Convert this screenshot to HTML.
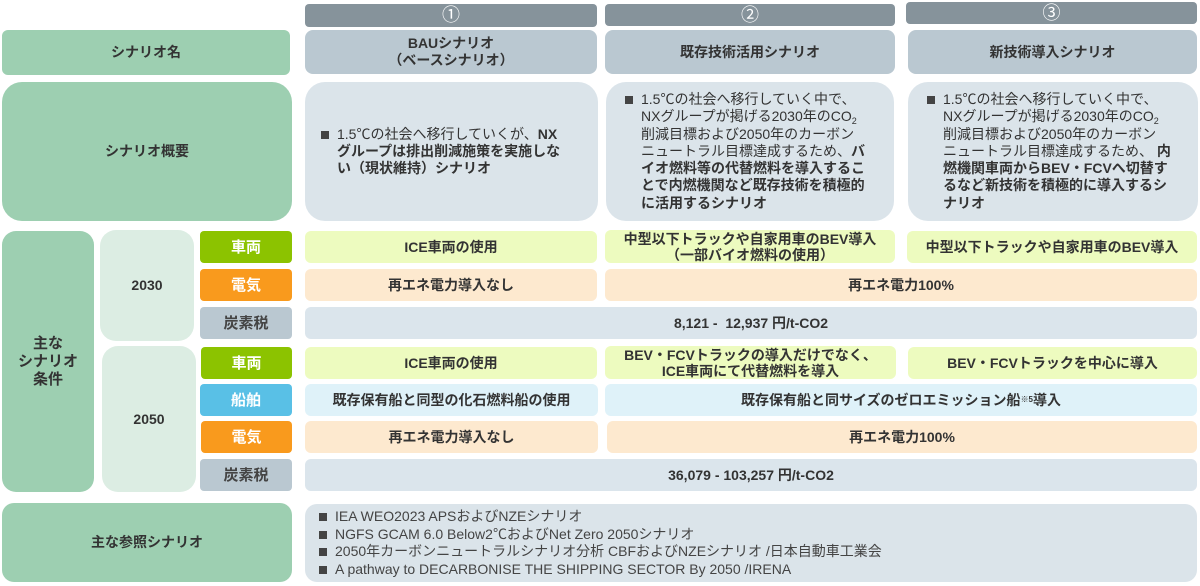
<!DOCTYPE html>
<html><head><meta charset="utf-8"><style>
body{margin:0;width:1200px;height:586px;background:#fff;position:relative;overflow:hidden;font-family:"Liberation Sans","Noto Sans CJK JP",sans-serif;color:#333;}
.b{position:absolute;display:flex;align-items:center;justify-content:center;text-align:center;font-weight:bold;font-size:14px;line-height:17px;box-sizing:border-box;}
.g{background:#9dcfb1;}
.lg{background:#dcede3;border-radius:16px;}
.hd{background:#86939b;color:#fff;border-radius:4px;font-weight:normal;font-size:18px;}
.nm{background:#bac8d1;border-radius:8px;}
.sm{background:#dbe4ea;border-radius:20px;justify-content:flex-start;text-align:left;font-weight:normal;font-size:14px;line-height:17.3px;white-space:nowrap;}
.sm ul{margin:0;padding:0;list-style:none;}
.sm li{padding-left:16px;position:relative;}
.sm li:before{content:"";position:absolute;left:0;top:5px;width:8px;height:8px;background:#444;}
.sm sub{font-size:9px;line-height:0;vertical-align:-3px;}
.ve{background:#edfbbf;border-radius:6px;}
.pw{background:#fde9cf;border-radius:6px;}
.cb{background:#dbe5ec;border-radius:6px;}
.sh{background:#dff2f9;border-radius:6px;}
.lv{background:#8cc300;color:#fff;border-radius:4px;font-size:15px;}
.lo{background:#f99a1d;color:#fff;border-radius:4px;font-size:15px;}
.lb{background:#59c0e6;color:#fff;border-radius:4px;font-size:15px;}
.lgr{background:#bac8d1;border-radius:4px;font-size:15px;color:#444;}
</style></head><body>
<div class="b hd" style="left:305px;top:4px;width:292px;height:23px;">①</div>
<div class="b hd" style="left:605px;top:4px;width:290px;height:22px;">②</div>
<div class="b hd" style="left:906px;top:2px;width:291px;height:22px;">③</div>

<div class="b g" style="left:2px;top:30px;width:288px;height:45px;border-radius:6px;">シナリオ名</div>
<div class="b nm" style="left:305px;top:30px;width:292px;height:44px;">BAUシナリオ<br>（ベースシナリオ）</div>
<div class="b nm" style="left:605px;top:30px;width:290px;height:44px;">既存技術活用シナリオ</div>
<div class="b nm" style="left:908px;top:30px;width:289px;height:44px;">新技術導入シナリオ</div>

<div class="b g" style="left:2px;top:82px;width:290px;height:139px;border-radius:20px;">シナリオ概要</div>
<div class="b sm" style="left:305px;top:82px;width:293px;height:139px;padding-left:16px;"><ul><li>1.5℃の社会へ移行していくが、<b>NX<br>グループは排出削減施策を実施しな<br>い（現状維持）シナリオ</b></li></ul></div>
<div class="b sm" style="left:606px;top:82px;width:288px;height:139px;padding-left:19px;"><ul><li>1.5℃の社会へ移行していく中で、<br>NXグループが掲げる2030年のCO<sub>2</sub><br>削減目標および2050年のカーボン<br>ニュートラル目標達成するため、<b>バ<br>イオ燃料等の代替燃料を導入するこ<br>とで内燃機関など既存技術を積極的<br>に活用するシナリオ</b></li></ul></div>
<div class="b sm" style="left:908px;top:82px;width:290px;height:139px;padding-left:19px;"><ul><li>1.5℃の社会へ移行していく中で、<br>NXグループが掲げる2030年のCO<sub>2</sub><br>削減目標および2050年のカーボン<br>ニュートラル目標達成するため、 <b>内<br>燃機関車両からBEV・FCVへ切替す<br>るなど新技術を積極的に導入するシ<br>ナリオ</b></li></ul></div>

<div class="b g" style="left:2px;top:231px;width:92px;height:261px;border-radius:14px;font-size:15px;line-height:18px;">主な<br>シナリオ<br>条件</div>
<div class="b lg" style="left:100px;top:230px;width:94px;height:111px;">2030</div>
<div class="b lg" style="left:102px;top:346px;width:94px;height:146px;">2050</div>

<div class="b lv" style="left:200px;top:231px;width:92px;height:32px;">車両</div>
<div class="b lo" style="left:200px;top:269px;width:92px;height:32px;">電気</div>
<div class="b lgr" style="left:200px;top:307px;width:92px;height:32px;">炭素税</div>
<div class="b lv" style="left:201px;top:347px;width:91px;height:32px;">車両</div>
<div class="b lb" style="left:200px;top:384px;width:92px;height:32px;">船舶</div>
<div class="b lo" style="left:201px;top:421px;width:91px;height:32px;">電気</div>
<div class="b lgr" style="left:200px;top:459px;width:92px;height:32px;">炭素税</div>

<div class="b ve" style="left:305px;top:231px;width:292px;height:32px;">ICE車両の使用</div>
<div class="b ve" style="left:605px;top:230px;width:290px;height:33px;line-height:16px;">中型以下トラックや自家用車のBEV導入<br>（一部バイオ燃料の使用）</div>
<div class="b ve" style="left:907px;top:231px;width:290px;height:32px;">中型以下トラックや自家用車のBEV導入</div>
<div class="b pw" style="left:305px;top:269px;width:292px;height:32px;">再エネ電力導入なし</div>
<div class="b pw" style="left:605px;top:269px;width:592px;height:32px;">再エネ電力100%</div>
<div class="b cb" style="left:305px;top:307px;width:892px;height:32px;">8,121 -&nbsp; 12,937 円/t-CO2</div>

<div class="b ve" style="left:305px;top:347px;width:292px;height:32px;">ICE車両の使用</div>
<div class="b ve" style="left:605px;top:346px;width:291px;height:33px;line-height:16px;">BEV・FCVトラックの導入だけでなく、<br>ICE車両にて代替燃料を導入</div>
<div class="b ve" style="left:908px;top:347px;width:289px;height:32px;">BEV・FCVトラックを中心に導入</div>
<div class="b sh" style="left:305px;top:384px;width:293px;height:32px;">既存保有船と同型の化石燃料船の使用</div>
<div class="b sh" style="left:605px;top:384px;width:592px;height:32px;">既存保有船と同サイズのゼロエミッション船<sup style="font-size:8px;line-height:0">※5</sup>導入</div>
<div class="b pw" style="left:305px;top:421px;width:293px;height:32px;">再エネ電力導入なし</div>
<div class="b pw" style="left:607px;top:421px;width:590px;height:32px;">再エネ電力100%</div>
<div class="b cb" style="left:305px;top:459px;width:892px;height:32px;">36,079 - 103,257 円/t-CO2</div>

<div class="b g" style="left:2px;top:503px;width:290px;height:79px;border-radius:12px;">主な参照シナリオ</div>
<div class="b sm" style="left:305px;top:504px;width:892px;height:78px;border-radius:12px;padding-left:14px;line-height:17.5px;color:#444;"><ul>
<li>IEA WEO2023 APSおよびNZEシナリオ</li>
<li>NGFS GCAM 6.0 Below2℃およびNet Zero 2050シナリオ</li>
<li>2050年カーボンニュートラルシナリオ分析 CBFおよびNZEシナリオ /日本自動車工業会</li>
<li>A pathway to DECARBONISE THE SHIPPING SECTOR By 2050 /IRENA</li></ul></div>
</body></html>
